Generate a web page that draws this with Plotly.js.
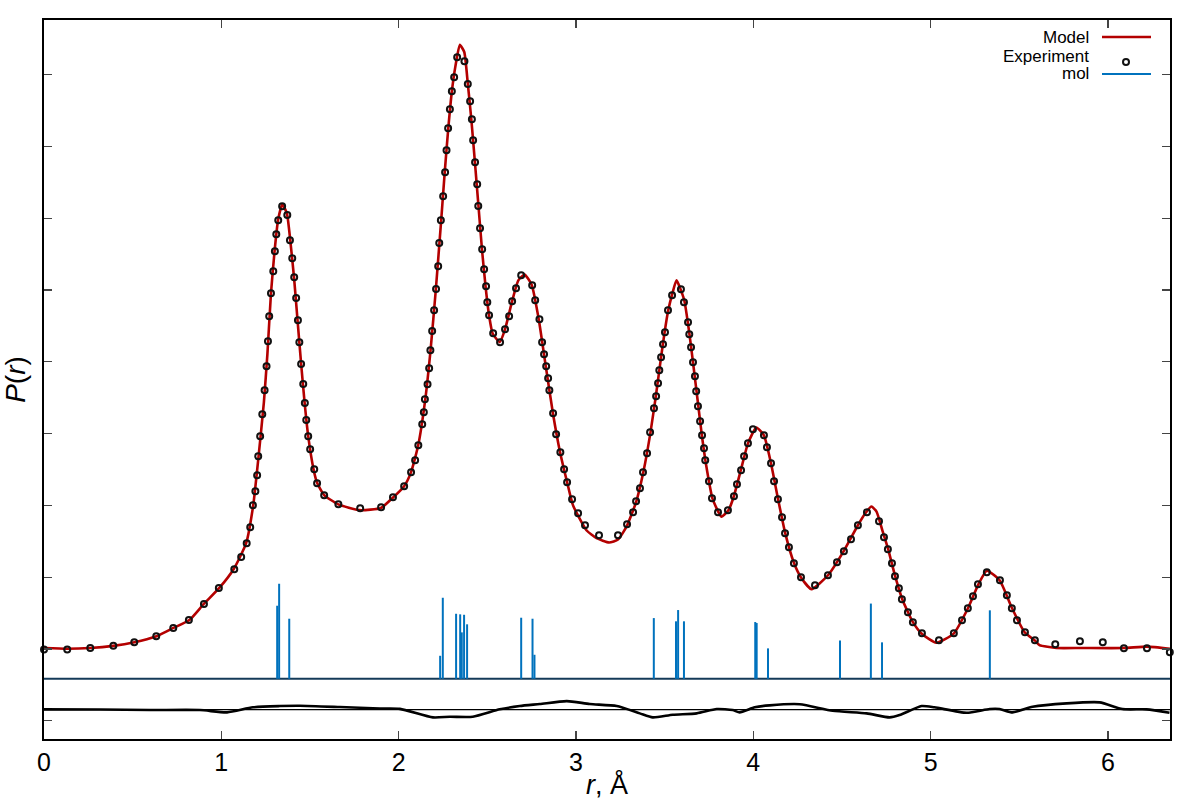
<!DOCTYPE html>
<html>
<head>
<meta charset="utf-8">
<script src="https://cdn.plot.ly/plotly-3.0.1.min.js"></script>
<style>html,body{margin:0;padding:0;background:#fff;}#chart{width:1200px;height:800px;}</style>
</head>
<body>
<div id="chart"></div>
<script>
// ---- Experiment (open circles) ----
const rExp = [0.000,0.131,0.261,0.391,0.509,0.633,0.729,0.817,0.902,0.986,
1.073,1.112,1.143,1.163,1.178,1.192,1.202,1.208,1.219,1.231,1.244,1.255,1.263,1.270,1.280,1.293,1.302,1.310,1.321,1.343,
1.372,1.387,1.400,1.411,1.422,1.432,1.440,1.450,1.462,1.471,1.479,1.490,1.501,1.524,1.540,1.580,1.660,1.783,1.901,1.968,
2.031,2.070,2.093,2.111,2.133,2.142,2.148,2.163,2.172,2.179,2.189,2.200,2.211,2.223,2.229,2.238,2.251,2.262,2.270,2.279,
2.289,2.300,2.313,2.330,2.371,2.390,2.403,2.413,2.420,2.431,2.443,2.449,2.459,2.471,2.482,2.493,2.500,2.510,2.533,2.572,
2.600,2.623,2.640,2.662,2.691,2.753,2.770,2.794,2.809,2.820,2.832,2.843,2.850,2.871,2.888,2.912,2.933,2.950,2.978,3.012,
3.051,3.130,3.237,3.288,3.322,3.339,3.361,3.378,3.401,3.418,3.440,3.452,3.463,3.470,3.480,3.491,3.502,3.519,3.542,3.592,
3.609,3.632,3.639,3.649,3.660,3.671,3.678,3.688,3.700,3.711,3.722,3.729,3.750,3.767,3.801,3.857,3.891,3.908,3.931,3.948,
3.970,3.998,4.060,4.077,4.100,4.117,4.139,4.162,4.179,4.201,4.229,4.269,4.348,4.421,4.472,4.511,4.551,4.590,4.641,4.709,
4.737,4.759,4.782,4.799,4.821,4.838,4.872,4.900,4.951,5.047,5.131,5.177,5.210,5.239,5.267,5.317,5.391,5.430,5.458,5.487,
5.532,5.588,5.703,5.842,5.971,6.090,6.220,6.349];
const pExp = [-0.02,-0.02,0.00,0.03,0.079,0.163,0.279,0.390,0.613,0.836,
1.096,1.267,1.458,1.681,1.988,2.183,2.405,2.670,2.949,3.255,3.589,3.924,4.272,4.620,4.940,5.247,5.525,5.762,5.957,6.152,
6.031,5.679,5.428,5.163,4.875,4.564,4.258,3.956,3.677,3.413,3.176,2.949,2.768,2.489,2.295,2.127,2.003,1.946,1.960,2.099,
2.254,2.447,2.614,2.823,3.116,3.283,3.464,3.673,3.896,4.146,4.415,4.704,5.000,5.316,5.641,5.957,6.291,6.626,6.932,7.238,
7.503,7.754,7.949,8.227,8.172,7.855,7.614,7.364,7.071,6.765,6.458,6.156,5.846,5.553,5.275,5.038,4.815,4.634,4.383,4.258,
4.439,4.620,4.829,5.010,5.191,5.052,4.843,4.578,4.258,4.091,3.924,3.756,3.589,3.269,2.977,2.726,2.489,2.308,2.071,1.876,
1.709,1.570,1.570,1.723,1.890,2.043,2.224,2.447,2.712,3.004,3.339,3.506,3.687,3.868,4.049,4.230,4.397,4.704,4.912,4.996,
4.815,4.536,4.369,4.188,3.979,3.784,3.575,3.366,3.158,2.963,2.781,2.614,2.322,2.085,1.890,1.918,2.113,2.280,2.475,2.670,
2.851,3.046,2.963,2.795,2.573,2.322,2.071,1.820,1.598,1.403,1.180,0.985,0.873,1.013,1.194,1.347,1.514,1.709,1.890,1.765,
1.542,1.375,1.180,0.999,0.832,0.678,0.497,0.358,0.205,0.107,0.205,0.386,0.553,0.720,0.887,1.054,0.943,0.734,0.553,0.386,
0.219,0.107,0.052,0.093,0.079,-0.004,-0.004,-0.060];

// ---- Model (line) ----
const rModel = [0.00,0.13,0.26,0.39,0.51,0.63,0.73,0.82,0.90,0.99,1.07,1.14,1.18,1.21,1.24,1.26,1.28,1.30,1.32,1.344,
1.37,1.39,1.41,1.43,1.45,1.47,1.49,1.52,1.54,1.58,1.66,1.78,1.90,1.97,2.03,2.07,2.11,2.15,2.18,2.21,
2.24,2.26,2.28,2.30,2.32,2.345,2.37,2.39,2.41,2.43,2.45,2.47,2.49,2.51,2.53,2.57,2.60,2.64,2.675,2.71,
2.75,2.79,2.83,2.87,2.91,2.95,2.983,3.059,3.116,3.187,3.237,3.285,3.34,3.38,3.42,3.45,3.48,3.50,3.52,3.545,
3.567,3.61,3.64,3.66,3.69,3.71,3.73,3.75,3.77,3.82,3.86,3.89,3.93,3.97,4.017,4.06,4.10,4.14,4.18,4.23,
4.27,4.328,4.42,4.51,4.59,4.63,4.666,4.695,4.73,4.76,4.80,4.84,4.90,4.95,5.032,5.13,5.21,5.27,5.317,5.39,5.46,5.53,
5.59,5.614,5.71,5.85,6.09,6.22,6.35];
const pModel = [0.00,-0.01,0.00,0.03,0.08,0.16,0.28,0.39,0.61,0.84,1.10,1.46,1.99,2.67,3.42,4.10,4.94,5.52,5.96,6.18,
6.05,5.65,5.16,4.56,3.96,3.41,2.95,2.49,2.30,2.13,2.00,1.92,1.95,2.10,2.25,2.45,2.82,3.46,4.15,5.00,
5.96,6.63,7.24,7.75,8.10,8.40,8.30,7.86,7.36,6.77,6.16,5.55,5.04,4.63,4.38,4.26,4.44,4.83,5.12,5.20,
5.06,4.58,3.92,3.27,2.73,2.31,1.99,1.64,1.53,1.47,1.51,1.69,2.04,2.45,3.00,3.50,4.05,4.40,4.70,4.95,
5.12,4.85,4.37,3.98,3.37,2.96,2.61,2.32,2.08,1.83,1.92,2.11,2.48,2.85,3.07,2.96,2.57,2.07,1.60,1.18,
0.98,0.82,1.01,1.35,1.71,1.87,1.97,1.90,1.62,1.38,1.00,0.68,0.36,0.20,0.074,0.20,0.55,0.89,1.077,0.94,0.55,0.22,
0.10,0.04,0.00,0.00,0.00,0.02,-0.01];

// ---- mol (sticks) ----
const rStick = [1.315,1.326,1.383,2.234,2.249,2.324,2.347,2.356,2.369,2.386,2.691,2.755,2.766,
3.439,3.564,3.576,3.609,4.011,4.019,4.083,4.489,4.663,4.726,5.334];
const hStick = [1.017,1.323,0.836,0.320,1.128,0.905,0.897,0.646,0.891,0.758,0.850,0.836,0.334,
0.845,0.800,0.957,0.800,0.790,0.776,0.423,0.532,1.047,0.507,0.953];
const stickBase = -0.428;

// ---- residual ----
const rResid = [0.000,0.316,0.598,0.879,1.032,1.178,1.330,1.443,1.669,1.894,2.007,2.193,2.289,2.418,2.570,2.683,2.796,2.948,
3.078,3.230,3.360,3.433,3.546,3.681,3.794,3.884,3.923,4.008,4.092,4.262,4.448,4.639,4.769,4.825,4.949,5.022,5.203,5.333,
5.389,5.462,5.575,5.767,5.953,6.082,6.218,6.347];
const resid = [0.003,0.000,-0.007,-0.007,-0.039,0.031,0.049,0.053,0.035,0.014,0.010,-0.109,-0.100,-0.100,0.003,0.049,0.077,0.118,
0.077,0.049,-0.053,-0.109,-0.072,-0.053,0.007,-0.007,-0.039,0.031,0.058,0.074,-0.017,-0.053,-0.109,-0.077,0.049,0.031,-0.045,0.007,
0.007,-0.039,0.039,0.086,0.100,0.007,0.003,-0.045];
const residBase = -0.857;

const xTicks = [0,1,2,3,4,5,6];
const legendNames = ['Model','Experiment','mol'];

const red = '#b40000', blue = '#0072bd';

const sx = [], sy = [];
rStick.forEach((r,i)=>{ sx.push(r,r,null); sy.push(stickBase, stickBase+hStick[i], null); });

const traces = [
  {x:[0,6.36], y:[stickBase,stickBase], mode:'lines', line:{color:'#143a58',width:2.2}, hoverinfo:'skip', showlegend:false},
  {x:sx, y:sy, mode:'lines', name:'mol', line:{color:blue,width:2}, showlegend:false},
  {x:rResid, y:resid.map(v=>v+residBase), mode:'lines', line:{color:'#000',width:2.6,shape:'spline',smoothing:0.6}, showlegend:false, name:'residual'},
  {x:rModel, y:pModel, mode:'lines', name:'Model', line:{color:red,width:2.6,shape:'spline',smoothing:0.5}, showlegend:false},
  {x:rExp, y:pExp, mode:'markers', name:'Experiment', cliponaxis:false,
   marker:{symbol:'circle-open',size:6,color:'#111',line:{width:2,color:'#111'}}, showlegend:false}
];

const px = v => (v-44)/1126, py = v => (739-v)/719;
const font = 'Liberation Sans, Arial, sans-serif';

const layout = {
  width:1200, height:800,
  margin:{l:44,r:30,t:20,b:61},
  paper_bgcolor:'#fff', plot_bgcolor:'#fff',
  showlegend:false,
  font:{family:font,color:'#000'},
  xaxis:{range:[0,6.35], tickvals:xTicks, ticktext:xTicks.map(String), ticks:'inside', ticklen:8, tickwidth:1.3,
    showline:true, linewidth:1.6, linecolor:'#000', mirror:'ticks', showgrid:false, zeroline:false,
    tickfont:{size:25,family:font}, title:{text:'<i>r</i>, Å', font:{size:27,family:font}, standoff:2}},
  yaxis:{range:[-1.267,8.746], tick0:-0.014, dtick:1, ticks:'inside', ticklen:8, tickwidth:1.3,
    showline:true, linewidth:1.6, linecolor:'#000', mirror:'ticks', showgrid:false, zeroline:false,
    showticklabels:false, title:{text:'<i>P</i>(<i>r</i>)', font:{size:28,family:font}, standoff:8}},
  shapes:[
    {type:'line', xref:'paper', yref:'y', x0:0, x1:1, y0:residBase, y1:residBase, line:{color:'#000',width:1.2}},
    {type:'line', xref:'paper', yref:'paper', x0:px(1102), x1:px(1151), y0:py(37), y1:py(37), line:{color:red,width:2.6}},
    {type:'circle', xref:'paper', yref:'paper', x0:px(1123), x1:px(1129), y0:py(65), y1:py(59), line:{color:'#111',width:2}},
    {type:'line', xref:'paper', yref:'paper', x0:px(1102), x1:px(1151), y0:py(74), y1:py(74), line:{color:blue,width:2}}
  ],
  annotations: legendNames.map((t,i)=>({xref:'paper', yref:'paper', x:px(1091), y:py([37.5,56.5,74][i]),
    xanchor:'right', yanchor:'middle', text:t, showarrow:false, font:{size:17,family:font,color:'#000'}}))
};

Plotly.newPlot('chart', traces, layout, {staticPlot:true});
</script>
</body>
</html>
